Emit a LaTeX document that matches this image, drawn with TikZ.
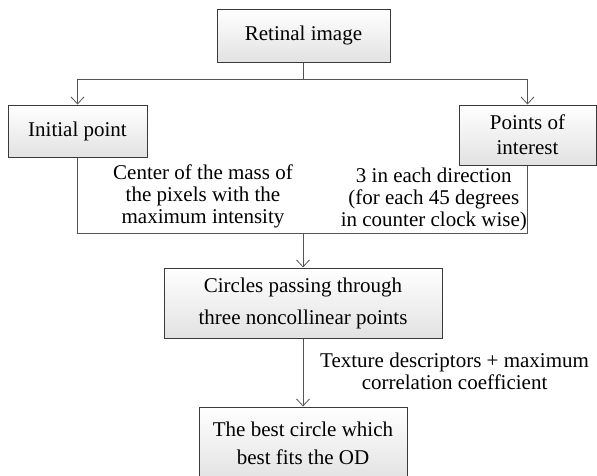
\documentclass[tikz,border=0pt]{standalone}
\usepackage{fontspec}
\setmainfont{Liberation Serif}
\usetikzlibrary{arrows.meta}
\definecolor{boxline}{HTML}{3A3A3A}
\definecolor{conn}{HTML}{555555}
\definecolor{boxbot}{HTML}{E2E2E2}
\tikzset{
  flowbox/.style={draw=boxline, line width=1pt, top color=white, bottom color=boxbot,
    inner sep=0pt, align=center, font=\fontsize{21}{#1}\selectfont},
  flowbox/.default=25,
  lbl/.style={inner sep=0pt, align=center, font=\fontsize{21}{22}\selectfont},
  conline/.style={draw=conn, line width=1pt},
  arr/.style={conline, -{Straight Barb[length=7pt,width=13pt,line width=0.8pt]}}
}
\begin{document}
\begin{tikzpicture}[x=1pt,y=-1pt]
\clip (0,0) rectangle (597,475);
\useasboundingbox (0,0) rectangle (597,475);
\node[flowbox, minimum width=173pt, minimum height=53pt] (ret) at (303.5,35.5) {Retinal image};
\node[flowbox, minimum width=139pt, minimum height=52pt] (init) at (77.5,131) {Initial point};
\node[flowbox=25, minimum width=137pt, minimum height=60pt] (pts) at (527.5,135) {Points of\\interest};
\node[flowbox=32, minimum width=278pt, minimum height=70pt] (circ) at (303,303) {Circles passing through\\three noncollinear points};
\node[flowbox=28, minimum width=208pt, minimum height=73pt] (best) at (303,443.5) {The best circle which\\best fits the OD};
\coordinate (split) at (303.5,79);
\coordinate (merge) at (303,233);
\draw[conline] (ret.south) -- (split);
\draw[arr] (split) -| (init.north);
\draw[arr] (split) -| (pts.north);
\draw[conline] (init.south) |- (merge);
\draw[conline] (pts.south) |- (merge);
\draw[arr] (merge) -- (circ.north);
\draw[arr] (circ.south) -- (best.north);
\node[lbl] (lblmass) at (203,196.7) {Center of the mass of\\the pixels with the\\maximum intensity};
\node[lbl, anchor=east] (lbldir) at (527,199.7) {3 in each direction\\(for each 45 degrees\\in counter clock wise)};
\node[lbl, anchor=west] (lbltex) at (320,371.8) {Texture descriptors + maximum\\correlation coefficient};
\end{tikzpicture}
\end{document}
